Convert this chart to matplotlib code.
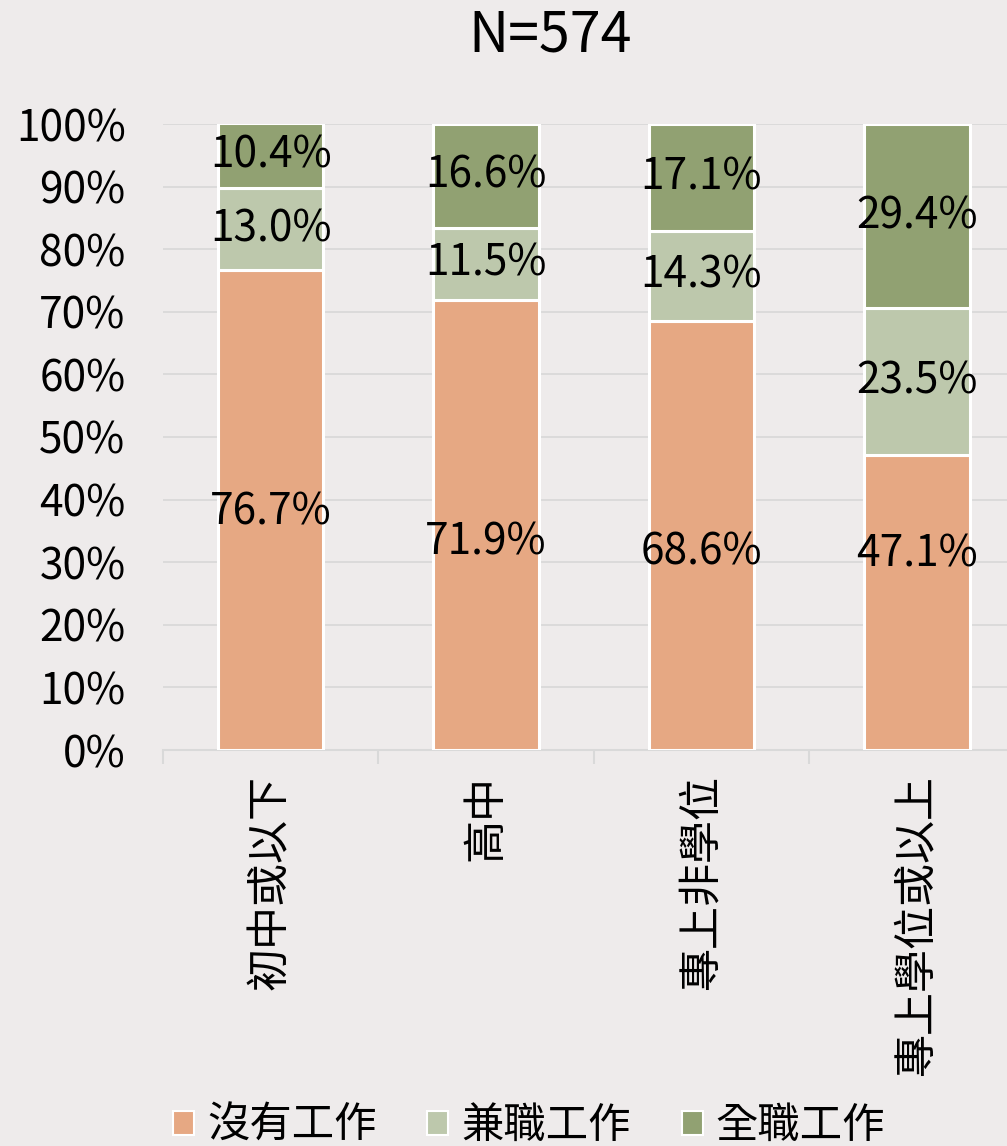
import matplotlib
matplotlib.use("Agg")
import matplotlib.pyplot as plt
from matplotlib.ticker import FixedLocator, PercentFormatter
from matplotlib.patches import Patch

plt.rcParams['font.family'] = ['Noto Sans CJK TC', 'DejaVu Sans']

categories = ["初中或以下", "高中", "專上非學位", "專上學位或以上"]
series_names = ["沒有工作", "兼職工作", "全職工作"]
no_work = [76.7, 71.9, 68.6, 47.1]
part_time = [13.0, 11.5, 14.3, 23.5]
full_time = [10.4, 16.6, 17.1, 29.4]
colors = ["#E6A883", "#BDC8AC", "#91A172"]
title = "N=574"
# label anchor (in % units) used for the bottom series labels in the original
bottom_label_y = [38.0, 33.1, 31.6, 31.2]

bg = "#EEEBEB"
fig = plt.figure(figsize=(10.07, 11.46), dpi=100, facecolor=bg)
ax = fig.add_axes([163/1007, 396/1146, (1024.5-163)/1007, 626/1146])
ax.set_facecolor(bg)

FS = 30.5
x = list(range(len(categories)))
bottom = [0.0]*len(categories)
for si, (vals, col) in enumerate(zip([no_work, part_time, full_time], colors)):
    ax.bar(x, vals, width=0.49, bottom=bottom, color=col,
           edgecolor="white", linewidth=2.2, zorder=3)
    for i, (xi, v, b) in enumerate(zip(x, vals, bottom)):
        yy = bottom_label_y[i] if si == 0 else b + v/2
        ax.text(xi, yy, f"{v:.1f}%", ha="center", va="center",
                fontsize=FS, color="black", zorder=4)
    bottom = [b + v for b, v in zip(bottom, vals)]

ax.set_xlim(-0.5, 3.5)
ax.set_ylim(0, 100)
ax.yaxis.set_major_locator(FixedLocator(range(0, 101, 10)))
ax.yaxis.set_major_formatter(PercentFormatter(decimals=0))
ax.grid(axis="y", color="#D9D9D9", linewidth=1.3, zorder=0)
for s in ["left", "right", "top"]:
    ax.spines[s].set_visible(False)
ax.spines["bottom"].set_color("#D9D9D9")
ax.spines["bottom"].set_linewidth(1.5)
ax.tick_params(axis="y", length=0, labelsize=FS, pad=27)
ax.set_xticks(x)
ax.set_xticklabels(categories, rotation=90, fontsize=31, va="top", ha="center")
ax.tick_params(axis="x", which="major", length=0, pad=18)
ax.set_xticks([-0.5, 0.5, 1.5, 2.5, 3.5], minor=True)
ax.tick_params(axis="x", which="minor", length=10, color="#D9D9D9", width=1.5)

fig.text(550/1007, 1 - 36/1146, title, ha="center", va="center", fontsize=40)

handles = [Patch(facecolor=c, edgecolor="white", linewidth=1.5) for c in colors]
fig.legend(handles, series_names, loc="center", bbox_to_anchor=(529/1007, 1 - 1126/1146),
           ncol=3, frameon=False, fontsize=FS, handlelength=0.5, handleheight=0.5,
           handletextpad=0.3, columnspacing=1.2)

fig.savefig("out.png", dpi=100, facecolor=bg)
